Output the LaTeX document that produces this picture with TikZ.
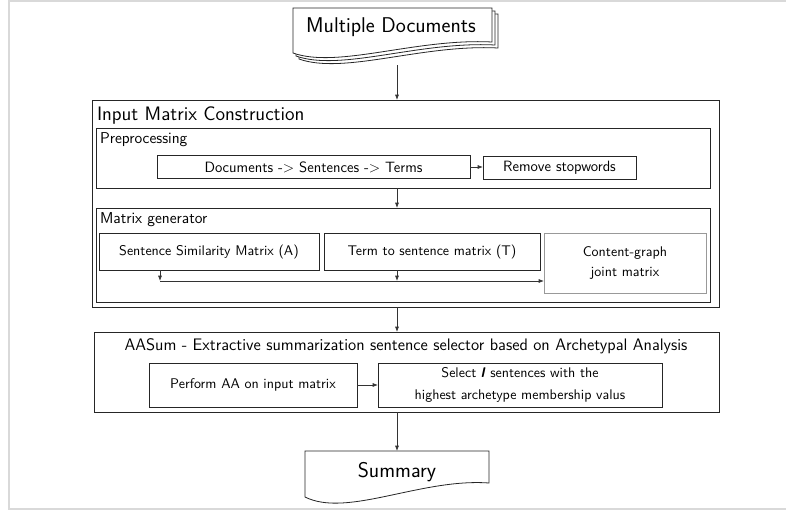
\documentclass[tikz,border=0pt]{standalone}
\usetikzlibrary{arrows.meta,calc}
\begin{document}
\begin{tikzpicture}[x=0.75pt,y=-0.75pt,
  every node/.style={font=\sffamily, inner sep=0pt, outer sep=0pt},
  container/.style={draw=black!85, line width=0.75pt, rectangle},
  stepbox/.style={draw=black!85, line width=0.6pt, rectangle, align=center},
  graybox/.style={draw=black!40, line width=0.6pt, rectangle, align=center},
  arr/.style={draw=black!80, line width=0.5pt, -{Latex[length=4pt,width=3pt]}},
  docline/.style={draw=black!85, line width=0.6pt, fill=white},
  frame/.style={draw=black!15, line width=2pt}
]
\useasboundingbox (0,0) rectangle (786,512);
\fill[white] (0,0) rectangle (786,512);
% outer light frame
\draw[frame] (786,1) -- (9,1) -- (9,509) -- (786,509);

% multiple documents stack
\foreach \d in {6,3,0}{
  \draw[docline] (293+\d,8+\d) -- (492+\d,8+\d) -- (492+\d,42+\d)
     .. controls (416+\d,38+\d) and (338+\d,69+\d) .. (293+\d,53+\d) -- cycle;
}
\node[font=\sffamily\fontsize{16}{18}\selectfont] (docs) at (391,27) {Multiple Documents};
\coordinate (docb) at (397,65);
\coordinate (spine) at (397,0);

% Input matrix construction
\node[container, minimum width=470.25pt, minimum height=155.25pt] (imc) at (405.5,203.5) {};
\node[anchor=west, font=\sffamily\fontsize{14.6}{17}\selectfont] (imct) at (97,116) {Input Matrix Construction};

\node[container, minimum width=460.5pt, minimum height=45pt] (pre) at (403,158) {};
\node[anchor=west, font=\sffamily\fontsize{11.8}{14}\selectfont] (pret) at (100,140) {Preprocessing};
\node[stepbox, minimum width=234.75pt, minimum height=17.25pt, font=\sffamily\fontsize{11.2}{13}\selectfont] (dst) at (313.5,167) {Documents -> Sentences -> Terms};
\node[stepbox, minimum width=114.75pt, minimum height=17.25pt, font=\sffamily\fontsize{11.2}{13}\selectfont] (rsw) at (559.5,168) {Remove stopwords};
\draw[arr] (dst.east) -- (dst.east -| rsw.west);

\node[container, minimum width=460.5pt, minimum height=70.5pt] (mg) at (403,255) {};
\node[anchor=west, font=\sffamily\fontsize{11.8}{14}\selectfont] (mgt) at (100,220) {Matrix generator};
\node[stepbox, minimum width=165pt, minimum height=27.75pt, font=\sffamily\fontsize{10.5}{12}\selectfont] (ssm) at (209,251.5) {Sentence Similarity Matrix (A)};
\node[stepbox, minimum width=162pt, minimum height=27.75pt, font=\sffamily\fontsize{10.5}{12}\selectfont] (tsm) at (432,251.5) {Term to sentence matrix (T)};
\node[graybox, minimum width=121.5pt, minimum height=45pt, font=\sffamily\fontsize{10.5}{15.5}\selectfont] (cg) at (625,263) {Content-graph\\joint matrix};
\coordinate (j1) at (160,281);
\coordinate (j2) at (397,281);
\draw[arr] (ssm.south -| j1) -- (j1);
\draw[arr] (tsm.south -| j2) -- (j2);
\draw[arr] (j1) -- (j1 -| cg.west);

\draw[arr] (docb) -- (docb |- imc.north);
\draw[arr] (pre.south -| spine) -- (mg.north -| spine);

% AASum
\node[container, minimum width=468.75pt, minimum height=60pt] (aas) at (406.5,372) {};
\node[font=\sffamily\fontsize{12.5}{14}\selectfont] (aast) at (406,346) {AASum - Extractive summarization sentence selector based on Archetypal Analysis};
\node[stepbox, minimum width=156pt, minimum height=33pt, font=\sffamily\fontsize{10.5}{12}\selectfont] (paa) at (253,385) {Perform AA on input matrix};
\node[stepbox, minimum width=213pt, minimum height=33pt, font=\sffamily\fontsize{10.5}{16}\selectfont] (sel) at (520,385) {Select \textbf{\textit{l}} sentences with the\\highest archetype membership valus};
\draw[arr] (paa.east) -- (sel.west);
\draw[arr] (imc.south -| spine) -- (aas.north -| spine);

% Summary
\node[minimum width=138pt, minimum height=31.5pt] (sum) at (397,472) {};
\draw[docline] (sum.north west) -- (sum.north east) -- ($(sum.north east)+(0,32)$)
   .. controls ($(sum.north east)+(-68,27)$) and ($(sum.north west)+(42,67)$) .. ($(sum.north west)+(0,46)$) -- cycle;
\node[font=\sffamily\fontsize{16}{18}\selectfont] (sumt) at (sum) {Summary};
\draw[arr] (aas.south -| spine) -- (sum.north -| spine);
\end{tikzpicture}
\end{document}
